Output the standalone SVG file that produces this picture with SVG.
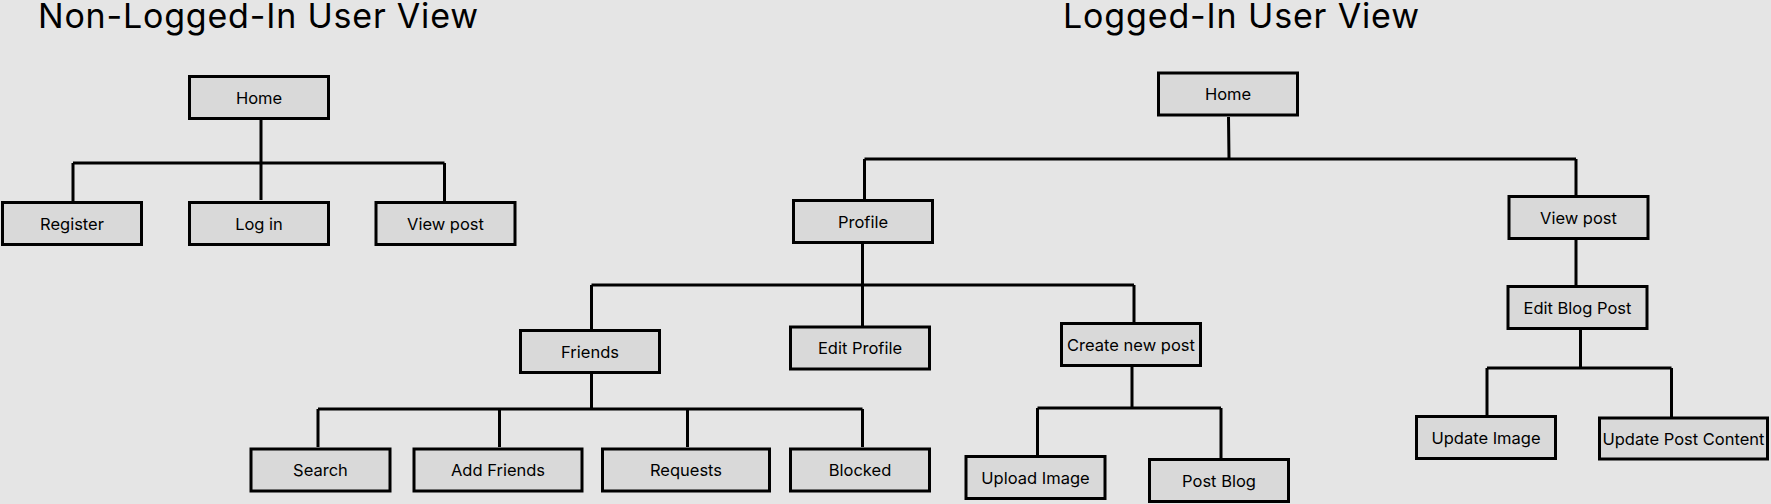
<svg xmlns="http://www.w3.org/2000/svg" width="1771" height="504" viewBox="0 0 1771 504">
<style>
.bg{fill:#e5e5e5}
.box{fill:#d9d9d9;stroke:#000;stroke-width:3}
.lbl{font-family:Inter,"Liberation Sans",sans-serif;font-size:16.5px;fill:#000;text-anchor:middle}
.title{font-family:Inter,"Liberation Sans",sans-serif;font-size:34px;fill:#000}
.conn{fill:none;stroke:#000;stroke-width:3}
</style>
<rect class="bg" x="0" y="0" width="1771" height="504"/>
<text class="title" x="38" y="27.5" textLength="440" lengthAdjust="spacing">Non-Logged-In User View</text>
<text class="title" x="1063" y="27.5" textLength="356" lengthAdjust="spacing">Logged-In User View</text>
<g id="connectors">
<path class="conn" d="M261 119V200 M73 163H444.5 M73 163V201 M444.5 163V201"/>
<path class="conn" d="M1228.5 117L1229 159 M864.5 159H1576 M864.5 159V199 M1576 159V195"/>
<path class="conn" d="M862.5 243V285 M591.5 285H1134 M591.5 285V329 M862.5 285V326 M1134 285V322"/>
<path class="conn" d="M591.5 374V409 M318 409H862.5 M318 409V447 M499.5 409V447 M687.5 409V447 M862.5 409V447"/>
<path class="conn" d="M1132 367V408 M1037.5 408H1221 M1037.5 408V455 M1221 408V458"/>
<path class="conn" d="M1576 239V285 M1580.5 330V368 M1487 368H1671.5 M1487 368V415 M1671.5 368V417"/>
</g>
<g id="n-home-guest"><rect class="box" x="189.5" y="76.5" width="139" height="42"/><text class="lbl" x="259" y="103.5">Home</text></g>
<g id="n-register"><rect class="box" x="2.5" y="202.5" width="139" height="42"/><text class="lbl" x="72" y="229.5">Register</text></g>
<g id="n-login"><rect class="box" x="189.5" y="202.5" width="139" height="42"/><text class="lbl" x="259" y="229.5">Log in</text></g>
<g id="n-viewpost-guest"><rect class="box" x="376" y="202.5" width="139" height="42"/><text class="lbl" x="445.5" y="229.5">View post</text></g>
<g id="n-home"><rect class="box" x="1158.5" y="73" width="139" height="42"/><text class="lbl" x="1228" y="100">Home</text></g>
<g id="n-profile"><rect class="box" x="793.5" y="200.5" width="139" height="42"/><text class="lbl" x="863" y="227.5">Profile</text></g>
<g id="n-viewpost"><rect class="box" x="1509" y="196.5" width="139" height="42"/><text class="lbl" x="1578.5" y="223.5">View post</text></g>
<g id="n-friends"><rect class="box" x="520.5" y="330.5" width="139" height="42"/><text class="lbl" x="590" y="357.5">Friends</text></g>
<g id="n-editprofile"><rect class="box" x="790.5" y="327" width="139" height="42"/><text class="lbl" x="860" y="354">Edit Profile</text></g>
<g id="n-createpost"><rect class="box" x="1061.5" y="323.5" width="139" height="42"/><text class="lbl" x="1131" y="350.5">Create new post</text></g>
<g id="n-search"><rect class="box" x="251" y="449" width="139" height="42"/><text class="lbl" x="320.5" y="476">Search</text></g>
<g id="n-addfriends"><rect class="box" x="414" y="449" width="168" height="42"/><text class="lbl" x="498" y="476">Add Friends</text></g>
<g id="n-requests"><rect class="box" x="602.5" y="449" width="167" height="42"/><text class="lbl" x="686" y="476">Requests</text></g>
<g id="n-blocked"><rect class="box" x="790.5" y="449" width="139" height="42"/><text class="lbl" x="860" y="476">Blocked</text></g>
<g id="n-uploadimage"><rect class="box" x="966" y="456.5" width="139" height="42"/><text class="lbl" x="1035.5" y="483.5">Upload Image</text></g>
<g id="n-postblog"><rect class="box" x="1149.5" y="459.5" width="139" height="42"/><text class="lbl" x="1219" y="486.5">Post Blog</text></g>
<g id="n-editblogpost"><rect class="box" x="1508" y="286.5" width="139" height="42"/><text class="lbl" x="1577.5" y="313.5">Edit Blog Post</text></g>
<g id="n-updateimage"><rect class="box" x="1416.5" y="416.5" width="139" height="42"/><text class="lbl" x="1486" y="443.5">Update Image</text></g>
<g id="n-updatecontent"><rect class="box" x="1599.5" y="418" width="168" height="41"/><text class="lbl" x="1683.5" y="444.5">Update Post Content</text></g>
</svg>
